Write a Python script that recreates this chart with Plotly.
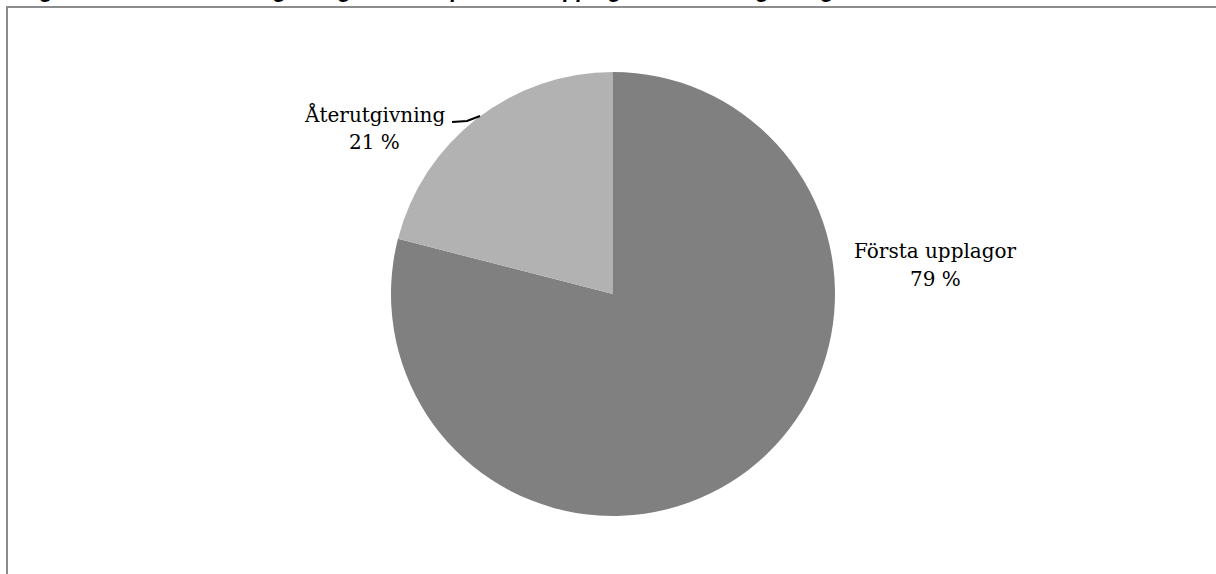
import plotly.graph_objects as go

# Data
categories = ["Första upplagor", "Återutgivning"]
shares = [79, 21]
colors = ["#808080", "#b2b2b2"]
title_text = "Diagram 2. Skönlitterär utgivning fördelad på första upplagor och återutgivning"

W, H = 1216, 574

def px(x):
    return x / W

def py(y):
    return 1 - y / H

# label placement: (x centre, y centre of first line) in pixels
label_pos = [(935, 251), (374, 114)]
line_gap = 28
label_font = dict(family="DejaVu Serif, Liberation Serif, serif", size=20, color="#000000")

fig = go.Figure(
    go.Pie(
        labels=categories,
        values=shares,
        sort=False,
        direction="clockwise",
        rotation=0,
        marker=dict(colors=colors, line=dict(width=0)),
        textinfo="none",
        hoverinfo="label+percent",
        showlegend=False,
        domain=dict(x=[px(391), px(835)], y=[py(516), py(72)]),
    )
)

annotations = []
for cat, val, (x, y) in zip(categories, shares, label_pos):
    for i, txt in enumerate([cat, f"{val} %"]):
        annotations.append(
            dict(
                x=px(x), y=py(y + i * line_gap), xref="paper", yref="paper",
                xanchor="center", yanchor="middle",
                text=txt,
                showarrow=False,
                font=label_font,
                align="center",
            )
        )

annotations.append(
    dict(
        x=px(4), y=py(4), xref="paper", yref="paper",
        xanchor="left", yanchor="bottom",
        text=f"<b><i>{title_text}</i></b>",
        showarrow=False,
        font=dict(family="Liberation Sans, Arial, sans-serif", size=22, color="#000000"),
    )
)

shapes = [
    # frame
    dict(type="rect", xref="paper", yref="paper",
         x0=px(7), x1=1.05, y0=-0.05, y1=py(7),
         line=dict(color="#8c8c8c", width=2), layer="below"),
    # leader line
    dict(type="path", xref="paper", yref="paper",
         path=f"M {px(452)} {py(122)} L {px(467)} {py(121)} L {px(480)} {py(116)}",
         line=dict(color="#000000", width=2)),
]

fig.update_layout(
    width=W, height=H,
    margin=dict(l=0, r=0, t=0, b=0),
    paper_bgcolor="#ffffff",
    plot_bgcolor="#ffffff",
    annotations=annotations,
    shapes=shapes,
)

fig.write_html(
    "out.html",
    config={"displayModeBar": False},
    post_script="document.body.style.margin='0';document.body.style.padding='0';",
)
